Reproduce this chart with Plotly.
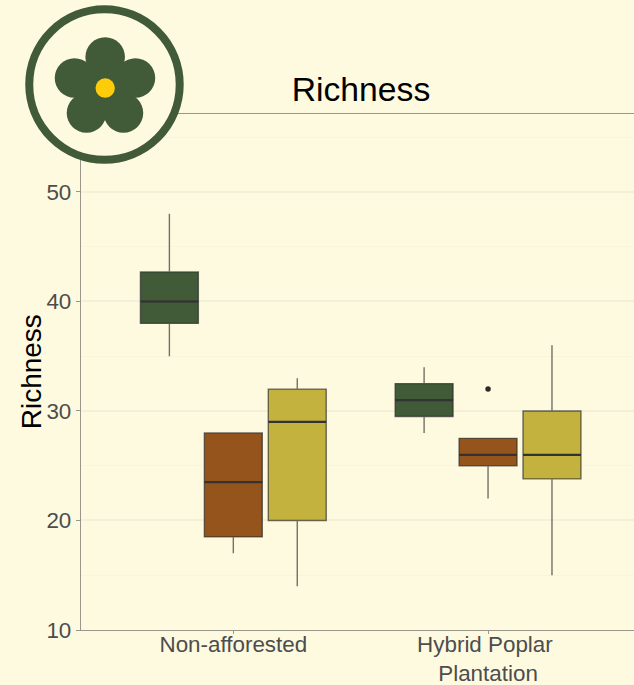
import plotly.graph_objects as go

categories = ["Non-afforested", "Hybrid Poplar\u00a0<br>Plantation"]
y_ticks = [10, 20, 30, 40, 50]

green_low = [35, 28]
green_q1 = [38, 29.5]
green_med = [40, 31]
green_q3 = [42.7, 32.5]
green_high = [48, 34]
green_out = [[], []]

brown_low = [17, 22]
brown_q1 = [18.5, 25]
brown_med = [23.5, 26]
brown_q3 = [28, 27.5]
brown_high = [28, 27.5]
brown_out = [[], [32]]

yellow_low = [14, 15]
yellow_q1 = [20, 23.8]
yellow_med = [29, 26]
yellow_q3 = [32, 30]
yellow_high = [33, 36]
yellow_out = [[], []]

BG = "#fefae0"
GREEN = "#415a38"
W, H = 634, 685
L, R, T, B = 80.5, 634, 114, 630.5

series = [
    ("a", GREEN, green_low, green_q1, green_med, green_q3, green_high, green_out),
    ("b", "#94541c", brown_low, brown_q1, brown_med, brown_q3, brown_high, brown_out),
    ("c", "#c3b33e", yellow_low, yellow_q1, yellow_med, yellow_q3, yellow_high, yellow_out),
]

fig = go.Figure()
for name, col, lo, q1, med, q3, hi, out in series:
    for i, cat in enumerate(categories):
        extra = {"y": [out[i]], "boxpoints": "outliers"} if out[i] else {"boxpoints": False}
        fig.add_trace(go.Box(
            x=[cat], q1=[q1[i]], median=[med[i]], q3=[q3[i]],
            lowerfence=[lo[i]], upperfence=[hi[i]],
            offsetgroup=name, fillcolor=col, whiskerwidth=0,
            line=dict(color="rgba(40,40,40,0.65)", width=1.4),
            marker=dict(color="#2b2b2b", size=5.5, opacity=1, line=dict(width=0)),
            showlegend=False, hoverinfo="skip", **extra))
        fig.add_trace(go.Box(
            x=[cat], q1=[med[i]], median=[med[i]], q3=[med[i]],
            lowerfence=[med[i]], upperfence=[med[i]],
            offsetgroup=name, boxpoints=False, whiskerwidth=0,
            line=dict(color="#333333", width=2.2),
            showlegend=False, hoverinfo="skip"))


def px(x):
    return (x - L) / (R - L)


def py(y):
    return (B - y) / (B - T)


def circle(cx, cy, r, fill, line=None, lw=0):
    return dict(type="circle", xref="paper", yref="paper", layer="above",
                x0=px(cx - r), x1=px(cx + r), y0=py(cy + r), y1=py(cy - r),
                fillcolor=fill, line=dict(color=line or fill, width=lw))


logo = [circle(104, 84.5, 75.3, BG, GREEN, 8)]
for cx, cy in [(104.7, 57), (74, 78), (135, 78), (86, 113), (123, 113)]:
    logo.append(circle(cx, cy, 19.8, GREEN))
logo.append(circle(104.7, 88, 26, GREEN))
logo.append(circle(104.7, 88, 9.7, "#ffcc0a"))

AX = "#98978a"
fig.update_layout(
    width=W, height=H, autosize=False,
    paper_bgcolor=BG, plot_bgcolor=BG,
    margin=dict(l=L, r=W - R, t=T, b=H - B, pad=0, autoexpand=False),
    boxmode="group", boxgap=0.247, boxgroupgap=0.094,
    font=dict(family="Liberation Sans, Arial, sans-serif"),
    title=dict(text="Richness", x=361 / W, xref="container", xanchor="center",
               y=1 - 89 / H, yref="container", yanchor="middle",
               font=dict(size=33.7, color="#000000")),
    shapes=logo,
    annotations=[dict(text="Richness", xref="paper", yref="paper", x=px(31), y=py(372),
                      showarrow=False, textangle=-90, xanchor="center", yanchor="middle",
                      font=dict(size=28, color="#000000"))],
)
fig.update_xaxes(
    type="category", categoryorder="array", categoryarray=categories,
    range=[-0.598, 1.573], showgrid=False, zeroline=False, automargin=False,
    showline=True, linecolor=AX, linewidth=1.4, mirror=True,
    ticks="outside", ticklen=3, tickcolor=AX, tickwidth=1,
    ticklabelstandoff=-9,
    tickfont=dict(size=22.4, color="#4d4d4d"),
)
fig.update_yaxes(
    range=[10, 57.12], tickvals=y_ticks, zeroline=False, automargin=False,
    showgrid=True, gridcolor="#f4efd8", gridwidth=1.5,
    minor=dict(tickmode="array", tickvals=[15, 25, 35, 45, 55], showgrid=True,
               gridcolor="#f9f5db", gridwidth=1, ticks=""),
    showline=True, linecolor=AX, linewidth=1.4,
    ticks="outside", ticklen=4, tickcolor=AX, tickwidth=1,
    tickfont=dict(size=22.4, color="#4d4d4d"),
)
fig.write_html("out.html", config={"displayModeBar": False},
               post_script="document.body.style.margin='0';document.body.style.background='#fefae0';")
